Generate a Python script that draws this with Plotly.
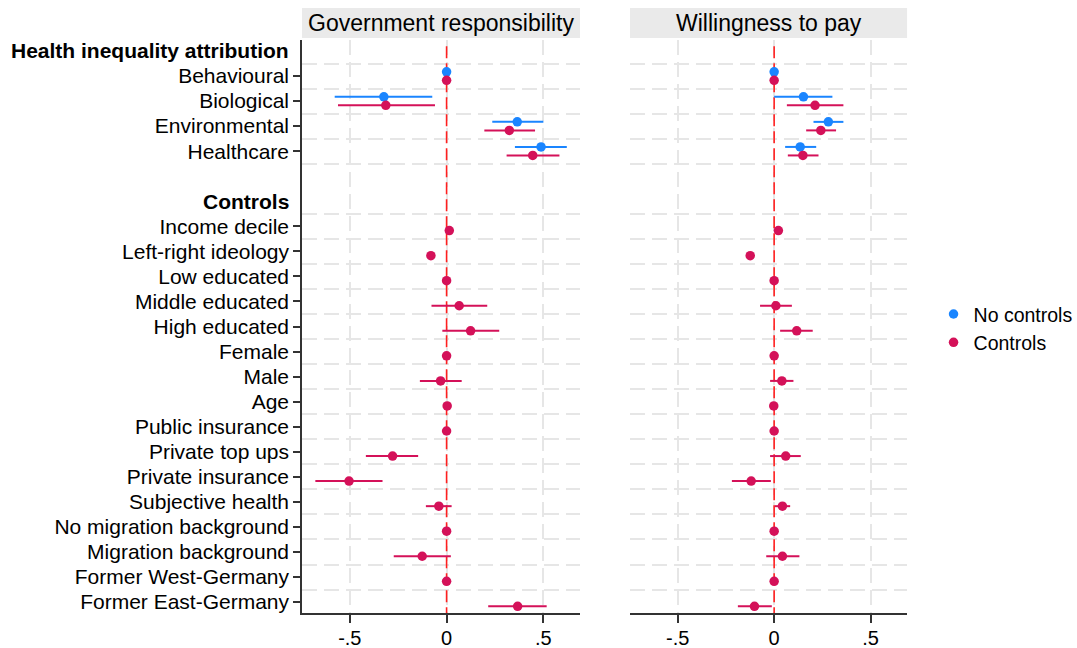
import plotly.graph_objects as go

# ---- labels -------------------------------------------------------------
group_titles = ["Health inequality attribution", "Controls"]
attribution = ["Behavioural", "Biological", "Environmental", "Healthcare"]
controls = [
    "Income decile", "Left-right ideology", "Low educated", "Middle educated",
    "High educated", "Female", "Male", "Age", "Public insurance",
    "Private top ups", "Private insurance", "Subjective health",
    "No migration background", "Migration background",
    "Former West-Germany", "Former East-Germany",
]
panel_titles = ["Government responsibility", "Willingness to pay"]
series_names = ["No controls", "Controls"]
x_tick_vals = [-0.5, 0, 0.5]
x_tick_text = ["-.5", "0", ".5"]

# ---- Government responsibility: estimates and 95% CIs -------------------
gov_nc_est = [0.0, -0.324, 0.365, 0.488]
gov_nc_lo = [0.0, -0.578, 0.236, 0.353]
gov_nc_hi = [0.0, -0.074, 0.500, 0.621]

gov_c_attr_est = [0.0, -0.314, 0.324, 0.445]
gov_c_attr_lo = [0.0, -0.561, 0.195, 0.310]
gov_c_attr_hi = [0.0, -0.060, 0.457, 0.583]

gov_c_ctrl_est = [0.014, -0.081, 0.0, 0.065, 0.124, 0.0, -0.031, 0.003,
                  0.0, -0.279, -0.504, -0.040, 0.0, -0.126, 0.0, 0.367]
gov_c_ctrl_lo = [0.006, -0.098, 0.0, -0.078, -0.022, 0.0, -0.138, -0.001,
                 0.0, -0.417, -0.678, -0.107, 0.0, -0.273, 0.0, 0.215]
gov_c_ctrl_hi = [0.022, -0.064, 0.0, 0.210, 0.272, 0.0, 0.078, 0.007,
                 0.0, -0.147, -0.331, 0.026, 0.0, 0.022, 0.0, 0.517]

# ---- Willingness to pay: estimates and 95% CIs --------------------------
wtp_nc_est = [0.0, 0.152, 0.281, 0.135]
wtp_nc_lo = [0.0, 0.000, 0.204, 0.057]
wtp_nc_hi = [0.0, 0.302, 0.359, 0.218]

wtp_c_attr_est = [0.0, 0.212, 0.242, 0.149]
wtp_c_attr_lo = [0.0, 0.066, 0.166, 0.071]
wtp_c_attr_hi = [0.0, 0.359, 0.321, 0.230]

wtp_c_ctrl_est = [0.022, -0.124, 0.0, 0.009, 0.117, 0.0, 0.040, -0.002,
                  0.0, 0.060, -0.119, 0.043, 0.0, 0.043, 0.0, -0.102]
wtp_c_ctrl_lo = [0.014, -0.134, 0.0, -0.073, 0.031, 0.0, -0.021, -0.006,
                 0.0, -0.021, -0.219, 0.004, 0.0, -0.041, 0.0, -0.188]
wtp_c_ctrl_hi = [0.030, -0.114, 0.0, 0.092, 0.200, 0.0, 0.100, 0.002,
                 0.0, 0.138, -0.017, 0.083, 0.0, 0.131, 0.0, -0.012]

# ---- styling -------------------------------------------------------------
BLUE = "#1a85ff"
RED = "#d41159"
REF = "#ff1f1f"
GRID = "#e6e6e6"
AXIS = "#333333"
FONT = "Liberation Sans, Arial, Helvetica, sans-serif"
LABEL_SIZE = 21

# Row layout: header, attribution items, spacer, header, control items
rows = ([("header", group_titles[0])]
        + [("item", a) for a in attribution]
        + [("blank", "")]
        + [("header", group_titles[1])]
        + [("item", c) for c in controls])
pos = {label: i for i, (kind, label) in enumerate(rows) if kind != "blank"}
item_rows = [i for i, (kind, _) in enumerate(rows) if kind == "item"]
item_text = [rows[i][1] for i in item_rows]
# dashed separators below every row except the spacer
grid_rows = [i + 0.5 for i, (kind, _) in enumerate(rows[:-1]) if kind != "blank"]
OFFSET = 0.17

x_domains = [[0.2804, 0.5385], [0.5850, 0.8422]]
y_domain = [0.054, 0.9383]
x_range = [-0.747, 0.689]
y_range = [22.435, -0.439]

panels = [
    dict(nc=(gov_nc_est, gov_nc_lo, gov_nc_hi),
         c=(gov_c_attr_est + gov_c_ctrl_est,
            gov_c_attr_lo + gov_c_ctrl_lo,
            gov_c_attr_hi + gov_c_ctrl_hi)),
    dict(nc=(wtp_nc_est, wtp_nc_lo, wtp_nc_hi),
         c=(wtp_c_attr_est + wtp_c_ctrl_est,
            wtp_c_attr_lo + wtp_c_ctrl_lo,
            wtp_c_attr_hi + wtp_c_ctrl_hi)),
]

fig = go.Figure()


def add_series(est, lo, hi, labels, shift, color, name, xa, ya, show):
    fig.add_trace(go.Scatter(
        x=est,
        y=[pos[l] + shift for l in labels],
        mode="markers",
        marker=dict(color=color, size=9.5, line=dict(width=0)),
        error_x=dict(type="data", symmetric=False,
                     array=[h - e for e, h in zip(est, hi)],
                     arrayminus=[e - l for e, l in zip(est, lo)],
                     width=0, thickness=2, color=color),
        name=name, legendgroup=name, showlegend=show,
        xaxis=xa, yaxis=ya,
    ))


for k, p in enumerate(panels):
    xa = "x" if k == 0 else "x2"
    ya = "y" if k == 0 else "y2"
    # dashed reference line at zero, drawn beneath the estimates
    fig.add_trace(go.Scatter(
        x=[0, 0], y=[y_range[1] + 0.25, y_range[0]], mode="lines",
        line=dict(color=REF, width=1.6, dash="12px,5px"),
        showlegend=False, hoverinfo="skip", xaxis=xa, yaxis=ya,
    ))
    add_series(*p["nc"], attribution, -OFFSET, BLUE, series_names[0], xa, ya, k == 0)
    add_series(*p["c"], attribution + controls, OFFSET, RED, series_names[1], xa, ya, k == 0)

xcommon = dict(
    range=x_range, tickmode="array", tickvals=x_tick_vals, ticktext=x_tick_text,
    showgrid=True, gridcolor=GRID, gridwidth=2, griddash="15px,7px",
    zeroline=False, showline=True, linecolor=AXIS, linewidth=1.5,
    ticks="outside", ticklen=8, tickwidth=1.5, tickcolor=AXIS,
    ticklabelstandoff=-2,
    tickfont=dict(size=20, color="black"), fixedrange=True,
)
ygrid = dict(tickmode="array", tickvals=grid_rows, showgrid=True,
             gridcolor=GRID, gridwidth=2, griddash="15px,7px", ticks="")

fig.update_layout(
    width=1077, height=648,
    margin=dict(l=0, r=0, t=0, b=0, autoexpand=False),
    paper_bgcolor="white", plot_bgcolor="white",
    font=dict(family=FONT, color="black", size=LABEL_SIZE),
    xaxis=dict(domain=x_domains[0], anchor="y", **xcommon),
    xaxis2=dict(domain=x_domains[1], anchor="y2", **xcommon),
    yaxis=dict(domain=y_domain, anchor="x", range=y_range,
               tickmode="array", tickvals=item_rows, ticktext=item_text,
               ticks="outside", ticklen=7, tickwidth=1.5, tickcolor=AXIS,
               ticklabelstandoff=0,
               showline=True, linecolor=AXIS, linewidth=1.5,
               showgrid=False, zeroline=False, minor=ygrid,
               tickfont=dict(size=LABEL_SIZE, color="black"), fixedrange=True),
    yaxis2=dict(domain=y_domain, anchor="x2", range=y_range,
                tickmode="array", tickvals=item_rows, showticklabels=False,
                ticks="", showline=False, showgrid=False, zeroline=False,
                minor=ygrid, fixedrange=True),
    legend=dict(x=0.8668, y=0.545, xanchor="left", yanchor="top",
                font=dict(size=19.5, color="black"), bgcolor="rgba(0,0,0,0)",
                tracegroupgap=0, itemclick=False),
    showlegend=True,
)

# bold group headers on the left
for title in group_titles:
    fig.add_annotation(text="<b>%s</b>" % title, x=0.2703, xref="paper",
                       y=pos[title], yref="y", xanchor="right", yanchor="middle",
                       showarrow=False, font=dict(size=LABEL_SIZE, color="black"))

# panel title strips
for k, title in enumerate(panel_titles):
    x0, x1 = x_domains[k]
    fig.add_shape(type="rect", xref="paper", yref="paper",
                  x0=x0, x1=x1, y0=0.9414, y1=0.9877,
                  fillcolor="#eaeaea", line=dict(width=0), layer="below")
    fig.add_annotation(text=title, x=(x0 + x1) / 2, xref="paper",
                       y=0.9645, yref="paper", xanchor="center", yanchor="middle",
                       showarrow=False, font=dict(size=23, color="black"))

fig.write_html("out.html")
